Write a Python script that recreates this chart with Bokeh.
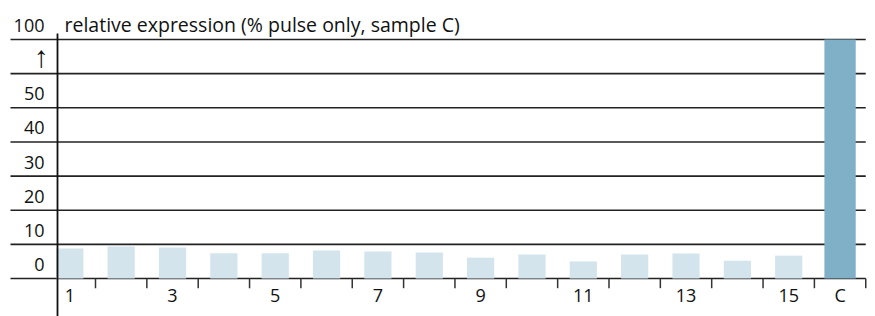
from bokeh.plotting import figure
from bokeh.models import ColumnDataSource, Range1d
from bokeh.embed import file_html
from bokeh.resources import INLINE
from bokeh.core.properties import value

# ---------------- data ----------------
categories = ["1", "2", "3", "4", "5", "6", "7", "8", "9", "10",
              "11", "12", "13", "14", "15", "C"]
values = [8.8, 9.4, 9.1, 7.4, 7.4, 8.2, 7.9, 7.6, 6.1, 7.0,
          5.0, 7.0, 7.3, 5.2, 6.7, 100.0]
x_tick_labels = ["1", "", "3", "", "5", "", "7", "", "9", "",
                 "11", "", "13", "", "15", "C"]
y_tick_values = [0, 10, 20, 30, 40, 50, 60, 100]
y_tick_labels = ["0", "10", "20", "30", "40", "50", "\u2191", "100"]
title_text = "relative expression (% pulse only, sample C)"
highlight = "C"


def disp(v):
    """Broken value axis: 0-60 linear, 60-100 squeezed into one 10-unit band."""
    return v if v <= 60 else 60 + (v - 60) / 4.0


# ---------------- layout (pixels) ----------------
W, H = 875, 316
PX_PER_CAT = 51.35          # pixels per category
X_ORIGIN = 17.97            # page x of category index 0
PX_PER_UNIT = 3.414         # pixels per display unit on y
Y_ZERO = 278.0              # page y of value 0
PAGE_OFF = 0

def xdata(px):
    return (px - X_ORIGIN) / PX_PER_CAT

def ydata(py):
    return (Y_ZERO - py) / PX_PER_UNIT

x_range = Range1d(xdata(PAGE_OFF), xdata(PAGE_OFF + W))
y_range = Range1d(ydata(PAGE_OFF + H), ydata(PAGE_OFF))

p = figure(width=W, height=H, x_range=x_range, y_range=y_range,
           output_backend="svg", toolbar_location=None,
           x_axis_location=None, y_axis_location=None,
           min_border=0, min_border_left=0, min_border_right=0,
           min_border_top=0, min_border_bottom=0)
p.outline_line_color = None
p.background_fill_color = "white"
p.border_fill_color = "white"
p.xgrid.visible = False
p.ygrid.visible = False

xs = list(range(1, len(categories) + 1))
n = len(categories)

# ---------------- gridlines ----------------
grid_left = xdata(10)
grid_right = n + 0.5
p.segment(x0=[grid_left] * len(y_tick_values), x1=[grid_right] * len(y_tick_values),
          y0=[disp(t) for t in y_tick_values], y1=[disp(t) for t in y_tick_values],
          line_color="#222222", line_width=1.6)

# ---------------- bars ----------------
norm = [i for i, c in enumerate(categories) if c != highlight]
hi = [i for i, c in enumerate(categories) if c == highlight]
src_n = ColumnDataSource(dict(x=[xs[i] for i in norm], top=[disp(values[i]) for i in norm]))
src_h = ColumnDataSource(dict(x=[xs[i] for i in hi], top=[disp(values[i]) for i in hi]))
p.vbar(x="x", top="top", bottom=0, width=0.53, source=src_n,
       fill_color="#d4e4ec", line_color=None)
p.vbar(x="x", top="top", bottom=0, width=0.61, source=src_h,
       fill_color="#80b0c8", line_color=None)

# ---------------- x ticks at category boundaries ----------------
bounds = [x + 0.5 for x in xs]
p.segment(x0=bounds, x1=bounds, y0=[0] * n, y1=[-9.7 / PX_PER_UNIT] * n,
          line_color="#333333", line_width=1.5)

# ---------------- y axis line ----------------
axis_x = xdata(57)
p.segment(x0=[axis_x], x1=[axis_x], y0=[ydata(33)], y1=[ydata(PAGE_OFF + H)],
          line_color="#111111", line_width=1.8)

# ---------------- labels ----------------
FONT = value("Open Sans")
num_idx = [i for i, l in enumerate(y_tick_labels) if l != "\u2191"]
arr_idx = [i for i, l in enumerate(y_tick_labels) if l == "\u2191"]
p.text(x=[xdata(44)] * len(num_idx), y=[disp(y_tick_values[i]) for i in num_idx],
       text=[y_tick_labels[i] for i in num_idx],
       text_align="right", text_baseline="middle", y_offset=-14,
       text_font=FONT, text_font_size="18px", text_color="#111111")
p.text(x=[xdata(40.7)] * len(arr_idx), y=[disp(y_tick_values[i]) for i in arr_idx],
       text=[y_tick_labels[i] for i in arr_idx],
       text_align="center", text_baseline="middle", y_offset=-17,
       text_font=value("Liberation Sans"), text_font_size="30px", text_color="#111111")

p.text(x=xs, y=[0] * n, text=x_tick_labels,
       text_align="center", text_baseline="middle", y_offset=16.5,
       text_font=FONT, text_font_size="18px", text_color="#111111")

p.text(x=[xdata(64)], y=[disp(100)], text=[title_text],
       text_align="left", text_baseline="middle", y_offset=-15.5,
       text_font=FONT, text_font_size="19.5px", text_color="#111111")

open("out.html", "w").write(file_html(p, INLINE))
